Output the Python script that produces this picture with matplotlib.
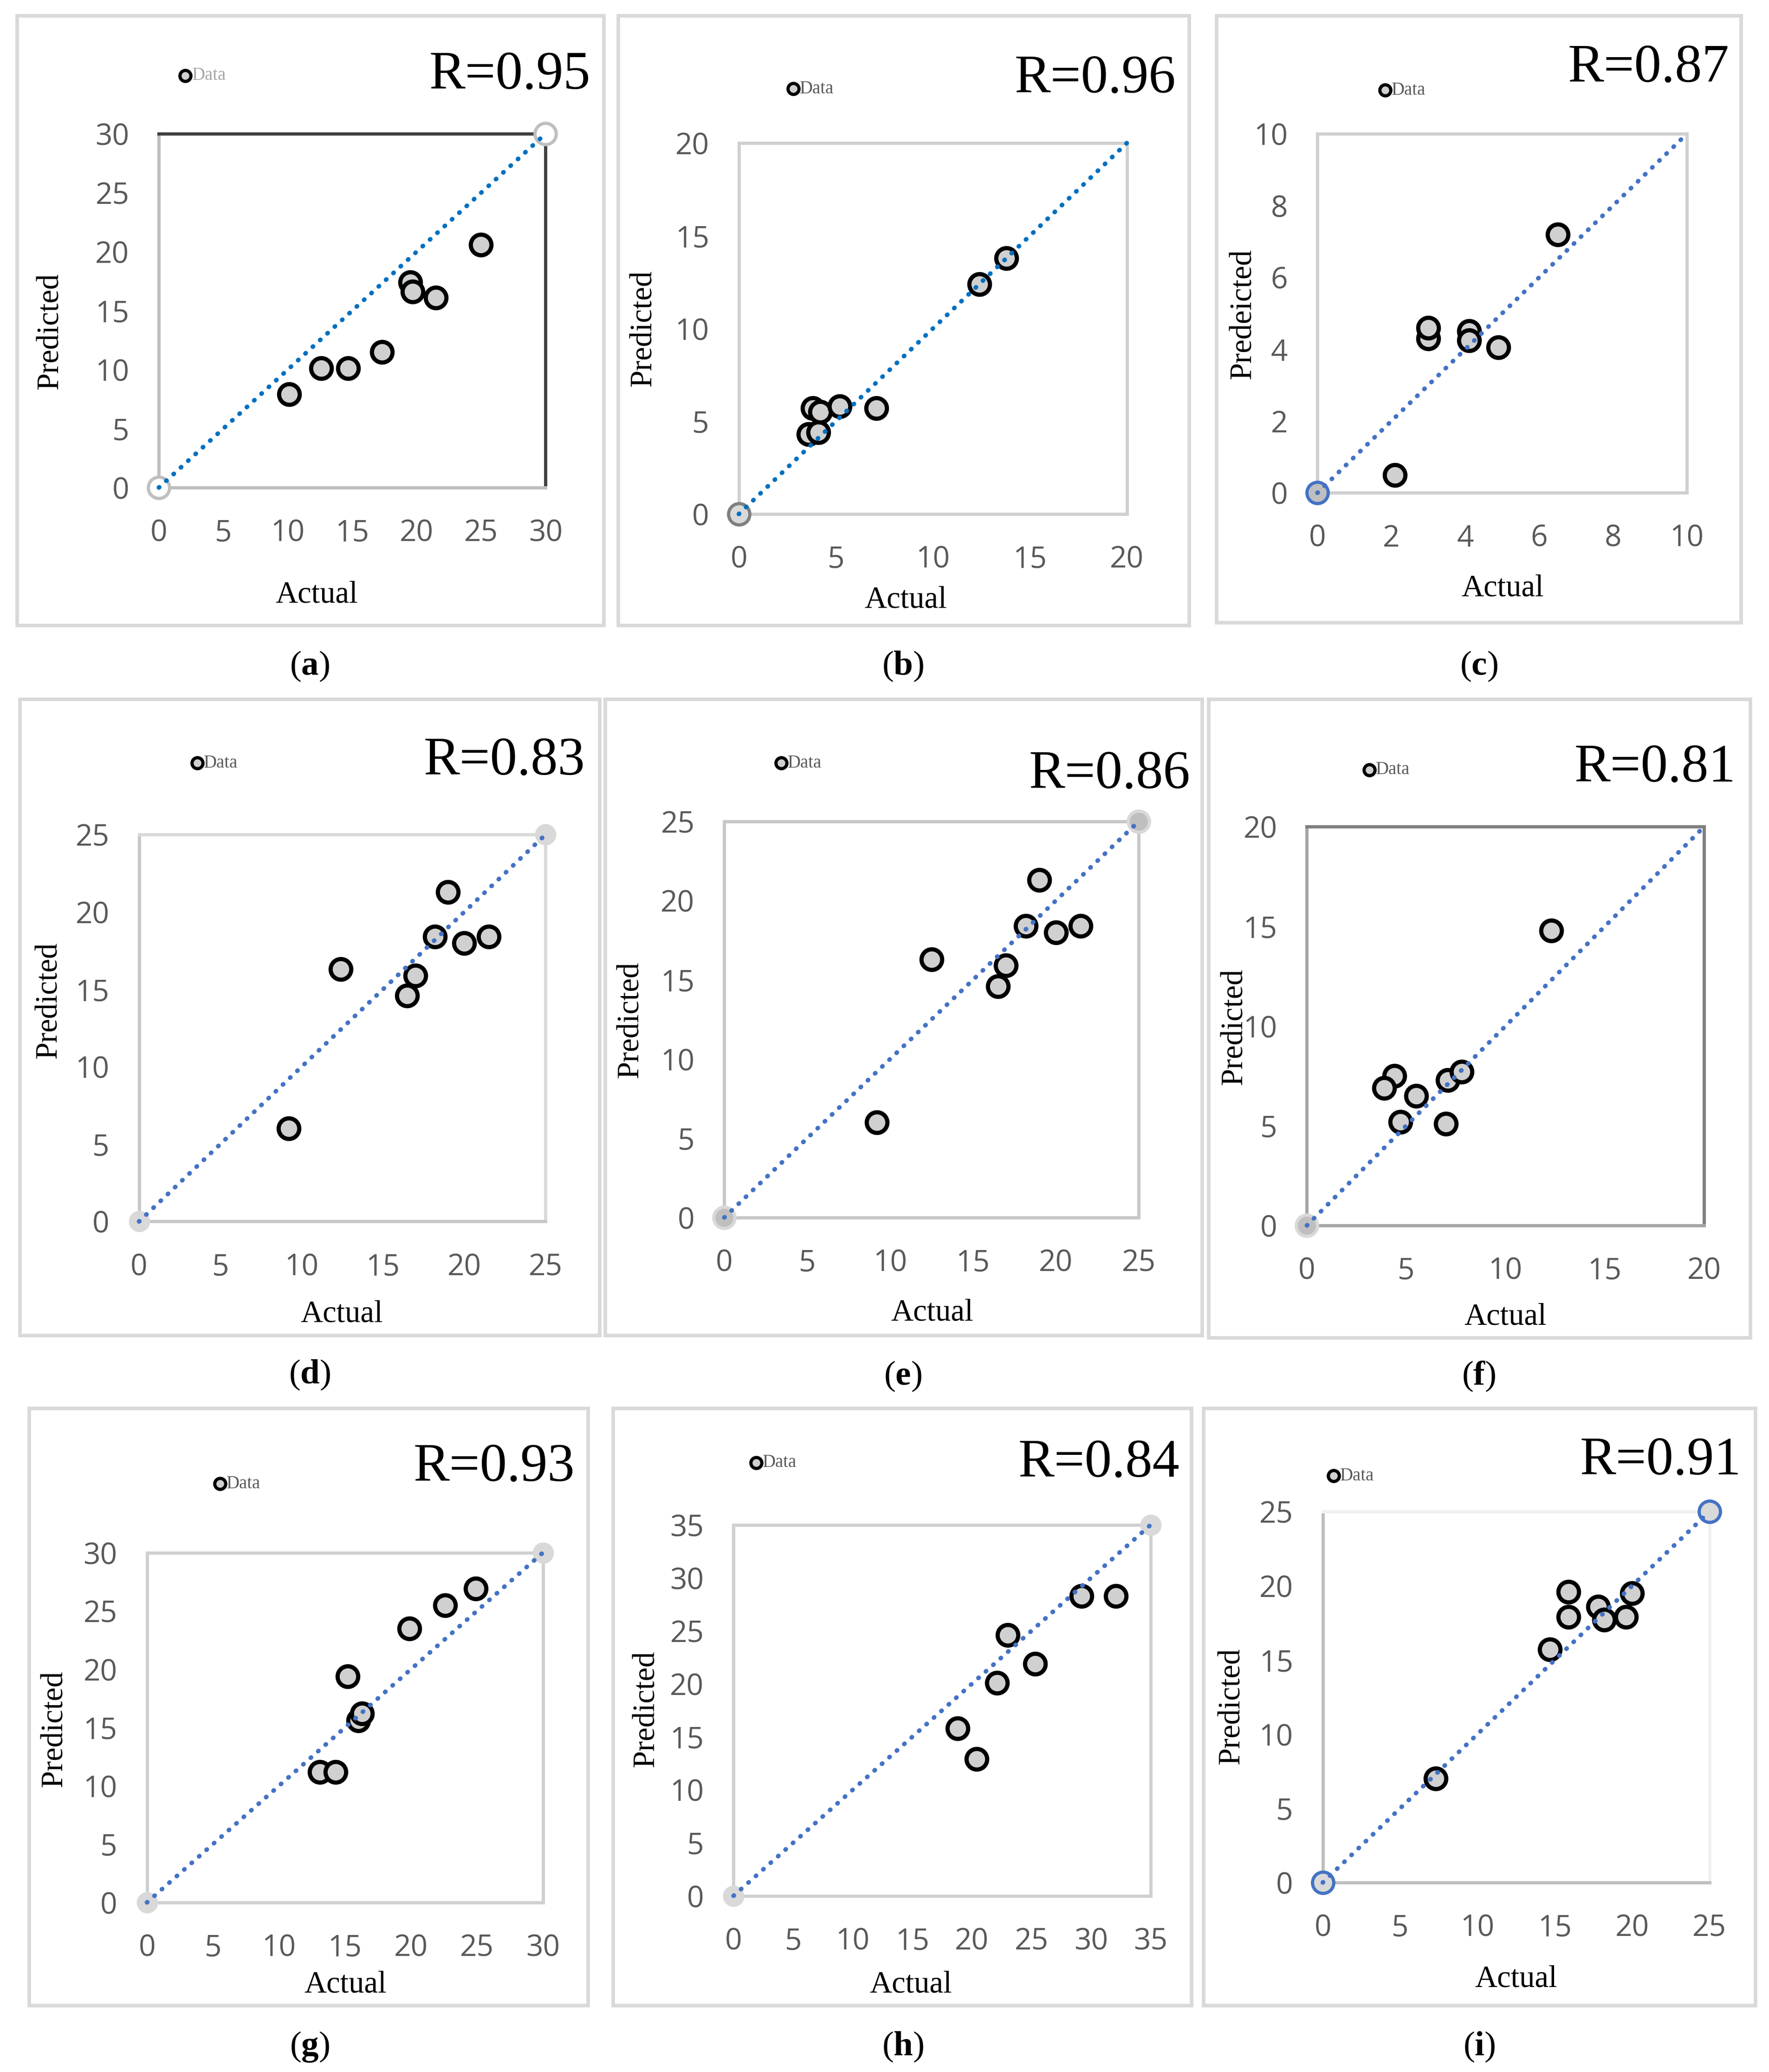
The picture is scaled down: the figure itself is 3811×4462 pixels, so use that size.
import matplotlib
matplotlib.use('Agg')
import matplotlib.pyplot as plt
from matplotlib.lines import Line2D
from matplotlib.patches import Rectangle
import numpy as np

# ---- values: actual vs predicted, one pair of lists per panel
actual_a = [10.1, 12.6, 14.7, 17.3, 19.5, 19.7, 21.5, 25.0]
pred_a = [7.9, 10.1, 10.1, 11.5, 17.4, 16.6, 16.1, 20.6]
actual_b = [3.6, 4.1, 3.8, 4.2, 5.2, 7.1, 12.4, 13.8]
pred_b = [4.3, 4.4, 5.7, 5.5, 5.8, 5.7, 12.4, 13.8]
actual_c = [2.1, 3.0, 3.0, 4.1, 4.1, 4.9, 6.5]
pred_c = [0.5, 4.3, 4.6, 4.5, 4.25, 4.05, 7.2]
actual_d = [9.2, 12.4, 16.5, 17.0, 18.2, 19.0, 20.0, 21.5]
pred_d = [6.0, 16.3, 14.6, 15.9, 18.4, 21.3, 18.0, 18.4]
actual_e = [9.2, 12.5, 16.5, 17.0, 18.2, 19.0, 20.0, 21.5]
pred_e = [6.0, 16.3, 14.6, 15.9, 18.4, 21.3, 18.0, 18.4]
actual_f = [12.3, 4.4, 3.9, 5.5, 4.7, 7.0, 7.1, 7.8]
pred_f = [14.8, 7.5, 6.9, 6.5, 5.2, 5.1, 7.3, 7.7]
actual_g = [13.1, 14.3, 15.2, 16.0, 16.3, 19.9, 22.6, 24.9]
pred_g = [11.2, 11.2, 19.4, 15.6, 16.2, 23.5, 25.5, 26.9]
actual_h = [18.8, 20.4, 22.1, 23.0, 25.3, 29.2, 32.1]
pred_h = [15.8, 12.9, 20.1, 24.6, 21.9, 28.3, 28.3]
actual_i = [7.3, 14.7, 15.9, 15.9, 17.8, 18.2, 19.6, 20.0]
pred_i = [7.0, 15.7, 19.6, 17.9, 18.6, 17.7, 17.9, 19.5]

letters = ['a', 'b', 'c', 'd', 'e', 'f', 'g', 'h', 'i']
r_values = [0.95, 0.96, 0.87, 0.83, 0.86, 0.81, 0.93, 0.84, 0.91]
axis_max = [30, 20, 10, 25, 25, 20, 30, 35, 25]
tick_step = [5, 5, 2, 5, 5, 5, 5, 5, 5]
y_titles = ['Predicted', 'Predicted', 'Predeicted', 'Predicted', 'Predicted',
            'Predicted', 'Predicted', 'Predicted', 'Predicted']
x_title = 'Actual'
legend_text = 'Data'

actual_all = [actual_a, actual_b, actual_c, actual_d, actual_e,
              actual_f, actual_g, actual_h, actual_i]
pred_all = [pred_a, pred_b, pred_c, pred_d, pred_e,
            pred_f, pred_g, pred_h, pred_i]

# ---- layout, in pixels of a 1336 x 1564 view of the figure
W, H = 1336.0, 1564.0
# axes box (left, right, top, bottom), outer frame (left, right, top, bottom)
layout = [
    dict(ax=(120, 412, 101, 368), frame=(13, 456, 12, 472), r=(446, 57), leg=(140, 57),
         cap=(234, 503), ylab=(38, 250), xlab=(239, 449)),
    dict(ax=(558, 851, 108, 388), frame=(467, 898, 12, 472), r=(888, 60), leg=(599, 67),
         cap=(682, 503), ylab=(486, 248), xlab=(684, 453)),
    dict(ax=(995, 1274, 101, 372), frame=(919, 1315, 12, 470), r=(1306, 52), leg=(1046, 68),
         cap=(1117, 503), ylab=(939, 237), xlab=(1135, 444)),
    dict(ax=(105, 412, 630, 922), frame=(15, 453, 528, 1008), r=(442, 575), leg=(149, 576),
         cap=(234, 1038), ylab=(37, 755), xlab=(258, 992)),
    dict(ax=(547, 860, 620, 919), frame=(457, 908, 528, 1008), r=(899, 585), leg=(590, 576),
         cap=(682, 1039), ylab=(476, 770), xlab=(704, 991)),
    dict(ax=(987, 1287, 624, 925), frame=(913, 1322, 528, 1010), r=(1311, 580), leg=(1034, 581),
         cap=(1117, 1039), ylab=(932, 775), xlab=(1137, 994)),
    dict(ax=(111, 410, 1172, 1436), frame=(22, 444, 1063, 1514), r=(434, 1108), leg=(166, 1120),
         cap=(234, 1545), ylab=(41, 1305), xlab=(261, 1498)),
    dict(ax=(554, 869, 1151, 1431), frame=(463, 900, 1063, 1514), r=(891, 1105), leg=(571, 1104),
         cap=(682, 1545), ylab=(488, 1290), xlab=(688, 1498)),
    dict(ax=(999, 1291, 1141, 1421), frame=(909, 1326, 1063, 1514), r=(1315, 1103), leg=(1007, 1114),
         cap=(1117, 1545), ylab=(930, 1288), xlab=(1145, 1494)),
]

# spine colours (left, bottom, top, right)
spine_cols = [
    ('#bfbfbf', '#bfbfbf', '#404040', '#404040'),
    ('#d0d0d0', '#d0d0d0', '#d0d0d0', '#d0d0d0'),
    ('#d0d0d0', '#d0d0d0', '#d0d0d0', '#d0d0d0'),
    ('#c8c8c8', '#c8c8c8', '#d9d9d9', '#d9d9d9'),
    ('#c8c8c8', '#c8c8c8', '#c8c8c8', '#c8c8c8'),
    ('#a6a6a6', '#a6a6a6', '#7f7f7f', '#7f7f7f'),
    ('#d0d0d0', '#d0d0d0', '#d0d0d0', '#d0d0d0'),
    ('#d0d0d0', '#d0d0d0', '#d0d0d0', '#d0d0d0'),
    ('#bfbfbf', '#bfbfbf', '#f0f0f0', '#f0f0f0'),
]
# end point marker style (face, edge, corners drawn)
end_style = [
    ('white', '#bfbfbf', 2),
    ('#d9d9d9', '#7f7f7f', 1),
    ('#bfbfbf', '#4472c4', 1),
    ('#d9d9d9', 'none', 2),
    ('#bfbfbf', '#d9d9d9', 2),
    ('#bfbfbf', '#d9d9d9', 1),
    ('#d9d9d9', 'none', 2),
    ('#d9d9d9', 'none', 2),
    ('#d9d9d9', '#4472c4', 2),
]
line_cols = ['#0070c0', '#0070c0'] + ['#4472c4'] * 7
legend_cols = ['#a6a6a6'] + ['#595959'] * 8

plt.rcParams['mathtext.fontset'] = 'custom'
plt.rcParams['mathtext.rm'] = 'Liberation Serif'
plt.rcParams['mathtext.bf'] = 'Liberation Serif:bold'

SERIF = 'Liberation Serif'
SANS = 'Open Sans'


def fx(x):
    return x / W


def fy(y):
    return 1 - y / H


fig = plt.figure(figsize=(38.11, 44.62), dpi=100)

for k in range(9):
    lay = layout[k]
    x0, x1, yt, yb = lay['ax']
    ax = fig.add_axes([fx(x0), fy(yb), (x1 - x0) / W, (yb - yt) / H])
    m = axis_max[k]

    # outer frame of the panel
    fl, fr, ft, fb = lay['frame']
    fig.add_artist(Rectangle((fx(fl), fy(fb)), (fr - fl) / W, (fb - ft) / H,
                             transform=fig.transFigure, fill=False,
                             edgecolor='#d9d9d9', linewidth=5.5))

    face, edge, n_end = end_style[k]
    ends = [0, m][:n_end]
    ax.plot(ends, ends, linestyle='none', marker='o', ms=33, mfc=face,
            mec=edge, mew=5, clip_on=False, zorder=3)

    ax.plot(actual_all[k], pred_all[k], linestyle='none', marker='o', ms=32,
            mfc='#d0d0d0', mec='black', mew=6.5, clip_on=False, zorder=4)

    ax.plot([0, m], [0, m], color=line_cols[k], linewidth=7,
            linestyle=(0, (0.1, 2.1)), dash_capstyle='round',
            clip_on=False, zorder=5)

    ax.set_xlim(0, m)
    ax.set_ylim(0, m)
    ticks = np.arange(0, m + tick_step[k], tick_step[k])
    ax.set_xticks(ticks)
    ax.set_yticks(ticks)
    ax.tick_params(length=0, labelsize=46, labelcolor='#595959')
    ax.tick_params(axis='x', pad=48)
    ax.tick_params(axis='y', pad=46)
    for lbl in ax.get_xticklabels() + ax.get_yticklabels():
        lbl.set_family(SANS)

    for side, col in zip(['left', 'bottom', 'top', 'right'], spine_cols[k]):
        ax.spines[side].set_color(col)
        ax.spines[side].set_linewidth(5)

    # texts
    fig.text(fx(lay['r'][0]), fy(lay['r'][1]), 'R=%.2f' % r_values[k],
             ha='right', va='center', fontsize=84, family=SERIF)
    fig.text(fx(lay['xlab'][0]), fy(lay['xlab'][1]), x_title,
             ha='center', va='center', fontsize=48, family=SERIF)
    fig.text(fx(lay['ylab'][0]), fy(lay['ylab'][1]), y_titles[k],
             ha='center', va='center', rotation=90, fontsize=48, family=SERIF)
    fig.text(fx(lay['cap'][0]), fy(lay['cap'][1]),
             '(' + r'$\mathbf{%s}$' % letters[k] + ')',
             ha='center', va='center', fontsize=54, family=SERIF)

    lx, ly = lay['leg']
    fig.add_artist(Line2D([fx(lx)], [fy(ly)], transform=fig.transFigure,
                          marker='o', ms=17, mfc='#d0d0d0', mec='black', mew=5,
                          linestyle='none'))
    fig.text(fx(lx + 5), fy(ly), legend_text, ha='left', va='center',
             fontsize=28, family=SERIF, color=legend_cols[k])

fig.savefig('out.png', dpi=100, facecolor='white')
